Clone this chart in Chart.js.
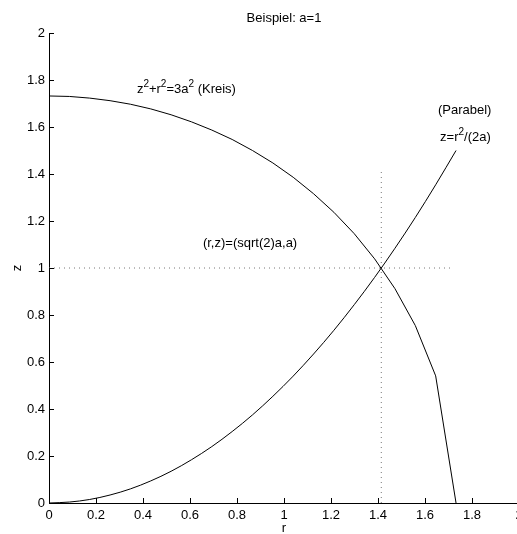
<!DOCTYPE html>
<html>
<head>
<meta charset="utf-8">
<script src="https://cdn.jsdelivr.net/npm/chart.js@4.4.1/dist/chart.umd.min.js"></script>
<style>
    html, body { margin: 0; padding: 0; background: #fff; overflow: hidden; }
    #wrap { position: absolute; left: 0; top: 0; width: 530px; height: 534px; }
</style>
</head>
<body>
<div id="wrap"><canvas id="chart"></canvas></div>
<script>
const rValues = [0, 0.0866, 0.1732, 0.2598, 0.3464, 0.4330, 0.5196, 0.6062, 0.6928, 0.7794,
    0.8660, 0.9526, 1.0392, 1.1258, 1.2124, 1.2990, 1.3856, 1.4722, 1.5588, 1.6454, 1.7321];
const kreisZ = [1.732, 1.730, 1.723, 1.712, 1.697, 1.677, 1.652, 1.622, 1.587, 1.547,
    1.500, 1.447, 1.386, 1.316, 1.237, 1.146, 1.039, 0.912, 0.755, 0.541, 0];
const parabelZ = [0, 0.004, 0.015, 0.034, 0.060, 0.094, 0.135, 0.184, 0.240, 0.304,
    0.375, 0.454, 0.540, 0.634, 0.735, 0.844, 0.960, 1.084, 1.215, 1.354, 1.500];

// dotted guide lines through the intersection point
const hLineR = [0, 1.71];
const hLineZ = [1, 1];
const vLineR = [1.414, 1.414];
const vLineZ = [0, 1.414];

const tickValues = [0, 0.2, 0.4, 0.6, 0.8, 1, 1.2, 1.4, 1.6, 1.8, 2];

const titleText = 'Beispiel: a=1';
const xLabel = 'r';
const yLabel = 'z';

// annotations: [r, z, parts]  parts = [text, superscript?]
const notes = [
    [0.374, 1.762, [['z', 0], ['2', 1], ['+r', 0], ['2', 1], ['=3a', 0], ['2', 1], [' (Kreis)', 0]]],
    [1.655, 1.672, [['(Parabel)', 0]]],
    [1.664, 1.557, [['z=r', 0], ['2', 1], ['/(2a)', 0]]],
    [0.655, 1.106, [['(r,z)=(sqrt(2)a,a)', 0]]]
];

const FONT = '"Liberation Sans", Arial, Helvetica, sans-serif';

function toPoints(xs, ys) {
    return xs.map((x, i) => ({ x: x, y: ys[i] }));
}

function drawRich(ctx, parts, x, y) {
    let cx = x;
    for (const [text, sup] of parts) {
        ctx.font = (sup ? '10px ' : '13px ') + FONT;
        ctx.fillText(text, cx, sup ? y - 5 : y);
        cx += ctx.measureText(text).width;
    }
}

const extras = {
    id: 'extras',
    afterDraw(chart) {
        const ctx = chart.ctx;
        const xs = chart.scales.x;
        const ys = chart.scales.y;
        const area = chart.chartArea;
        ctx.save();
        // inward ticks
        ctx.strokeStyle = '#000';
        ctx.lineWidth = 1;
        ctx.beginPath();
        for (const v of tickValues) {
            const px = Math.round(xs.getPixelForValue(v)) + 0.5;
            ctx.moveTo(px, area.bottom);
            ctx.lineTo(px, area.bottom - 5);
            const py = Math.round(ys.getPixelForValue(v)) + 0.5;
            ctx.moveTo(area.left, py);
            ctx.lineTo(area.left + 5, py);
        }
        ctx.stroke();

        ctx.fillStyle = '#000';
        ctx.textBaseline = 'middle';
        ctx.textAlign = 'center';
        ctx.font = '13px ' + FONT;
        ctx.fillText(titleText, (area.left + area.right) / 2, 18);
        ctx.fillText(xLabel, (area.left + area.right) / 2, 528);
        ctx.save();
        ctx.translate(17, (area.top + area.bottom) / 2);
        ctx.rotate(-Math.PI / 2);
        ctx.fillText(yLabel, 0, 0);
        ctx.restore();

        ctx.textAlign = 'left';
        for (const [r, z, parts] of notes) {
            drawRich(ctx, parts, xs.getPixelForValue(r), ys.getPixelForValue(z));
        }
        ctx.restore();
    }
};

const fmt = v => String(+Number(v).toFixed(1));

new Chart(document.getElementById('chart'), {
    type: 'scatter',
    data: {
        datasets: [
            { data: toPoints(rValues, kreisZ), showLine: true, borderColor: '#000', borderWidth: 1, pointRadius: 0, tension: 0 },
            { data: toPoints(rValues, parabelZ), showLine: true, borderColor: '#000', borderWidth: 1, pointRadius: 0, tension: 0.4, cubicInterpolationMode: 'monotone' },
            { data: toPoints(hLineR, hLineZ), showLine: true, borderColor: '#777', borderWidth: 1, borderDash: [1, 4], pointRadius: 0 },
            { data: toPoints(vLineR, vLineZ), showLine: true, borderColor: '#777', borderWidth: 1, borderDash: [1, 4], pointRadius: 0 }
        ]
    },
    options: {
        responsive: true,
        maintainAspectRatio: false,
        animation: false,
        events: [],
        layout: { padding: { top: 33, right: 11, left: 0, bottom: 0 } },
        plugins: { legend: { display: false }, tooltip: { enabled: false }, title: { display: false } },
        scales: {
            x: {
                type: 'linear', min: 0, max: 2,
                afterFit: s => { s.height = 31; },
                afterBuildTicks: s => { s.ticks = tickValues.map(v => ({ value: v })); },
                grid: { display: false, drawTicks: false },
                border: { display: true, color: '#000', width: 1 },
                ticks: { callback: fmt, color: '#000', padding: 5, font: { family: FONT, size: 13 }, maxRotation: 0, autoSkip: false }
            },
            y: {
                type: 'linear', min: 0, max: 2,
                afterFit: s => { s.width = 49; },
                afterBuildTicks: s => { s.ticks = tickValues.map(v => ({ value: v })); },
                grid: { display: false, drawTicks: false },
                border: { display: true, color: '#000', width: 1 },
                ticks: { callback: fmt, color: '#000', padding: 4, font: { family: FONT, size: 13 }, autoSkip: false }
            }
        }
    },
    plugins: [extras]
});
</script>
</body>
</html>
